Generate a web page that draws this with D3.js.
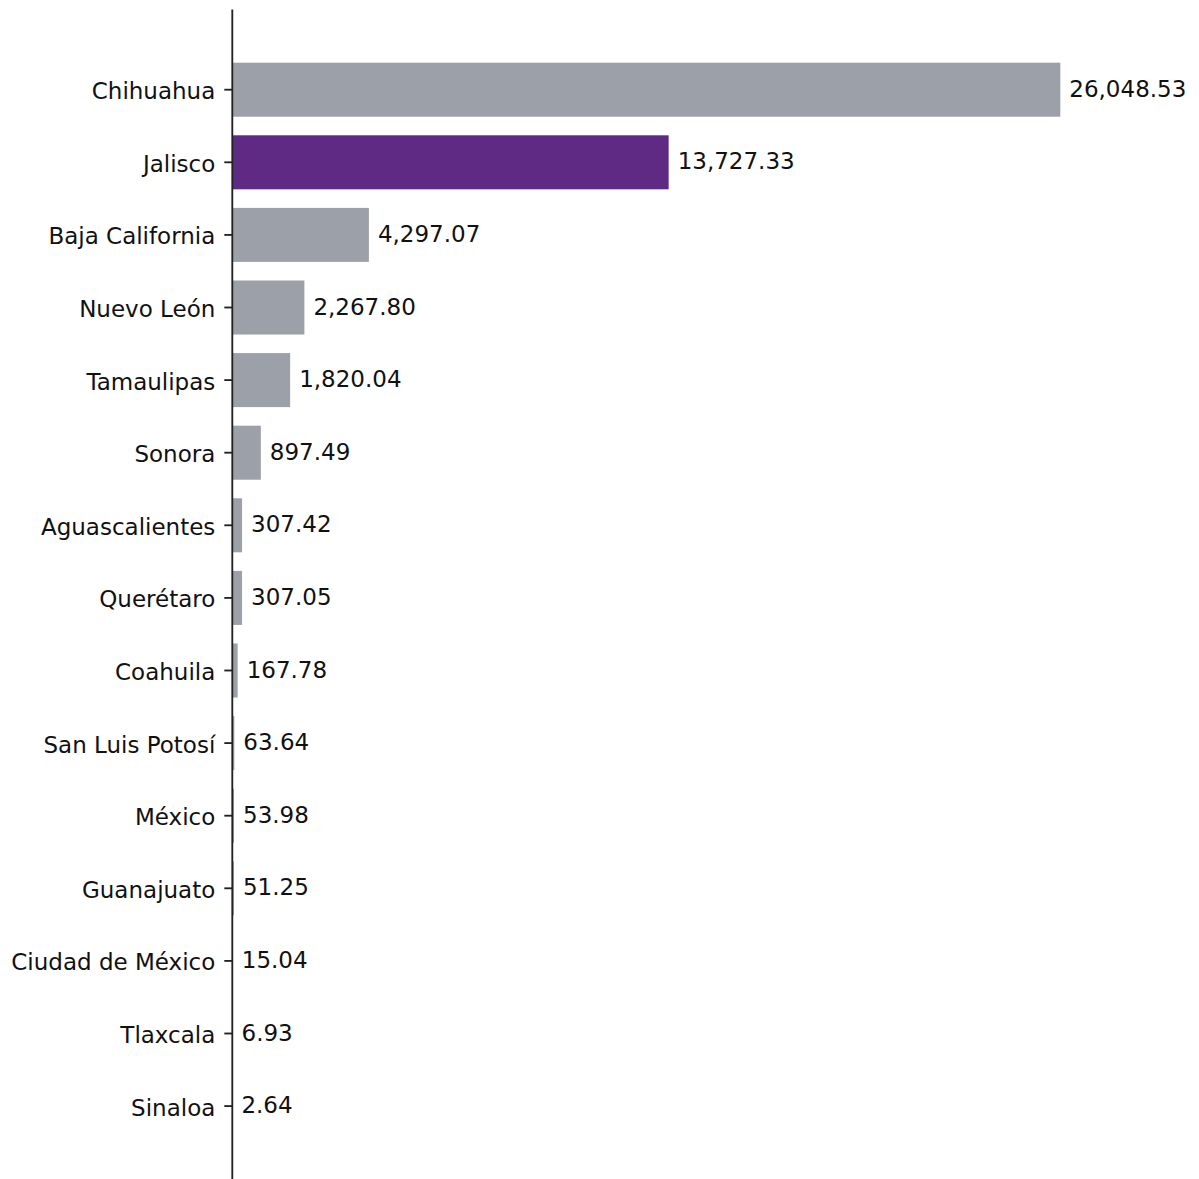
<!DOCTYPE html>
<html>
<head>
<meta charset="utf-8">
<script src="https://cdn.jsdelivr.net/npm/d3@7"></script>
<style>
  body { margin: 0; background: #fff; }
  text { font-family: "DejaVu Sans", sans-serif; }
</style>
</head>
<body>
<div id="graph"></div>
<script>
// states, top to bottom
const states = ["Chihuahua", "Jalisco", "Baja California", "Nuevo León", "Tamaulipas",
  "Sonora", "Aguascalientes", "Querétaro", "Coahuila", "San Luis Potosí", "México",
  "Guanajuato", "Ciudad de México", "Tlaxcala", "Sinaloa"];
const values = [26048.53, 13727.33, 4297.07, 2267.80, 1820.04, 897.49, 307.42, 307.05,
  167.78, 63.64, 53.98, 51.25, 15.04, 6.93, 2.64];
const highlight = "Jalisco";

const data = states.map((s, i) => ({ state: s, value: values[i] }));

var width = 1199, height = 1179;
var axisX = 232.3;

var svg = d3.select('#graph')
  .append('svg')
  .attr('width', width)
  .attr('height', height);

// x scale: value -> pixel
const x = d3.scaleLinear()
  .domain([0, 26048.53])
  .range([axisX, 1060.3]);

// y scale: band per state
const y = d3.scaleBand()
  .domain(states)
  .range([53.4, 1142.4])
  .paddingInner(0.256)
  .paddingOuter(0.128);

// bars
svg.selectAll(".bar")
  .data(data)
  .enter().append("rect")
    .attr("class", "bar")
    .attr("x", x(0))
    .attr("y", d => y(d.state))
    .attr("width", d => x(d.value) - x(0))
    .attr("height", y.bandwidth())
    .style("fill", d => d.state === highlight ? "#5f2a84" : "#9ca0a8");

// value labels
const fmt = d3.format(",.2f");
svg.selectAll(".val")
  .data(data)
  .enter().append("text")
    .attr("class", "val")
    .attr("x", d => x(d.value) + 9)
    .attr("y", d => y(d.state) + y.bandwidth() / 2 + 7)
    .style("font-size", "23px")
    .style("fill", "#111")
    .text(d => fmt(d.value));

// left axis
var yAxis = svg.append("g")
  .attr("transform", "translate(" + axisX + ",0)")
  .call(d3.axisLeft(y).tickSize(8).tickPadding(9));
yAxis.select(".domain").remove();
yAxis.selectAll(".tick line").attr("stroke", "#222").attr("stroke-width", 1.85);
yAxis.selectAll(".tick text")
  .attr("dy", null)
  .attr("y", 9.5)
  .style("font-size", "23px")
  .style("font-family", "DejaVu Sans")
  .style("fill", "#111");

// spine
svg.append("line")
  .attr("x1", axisX).attr("x2", axisX)
  .attr("y1", 9.5).attr("y2", height)
  .attr("stroke", "#222")
  .attr("stroke-width", 1.85);
</script>
</body>
</html>
